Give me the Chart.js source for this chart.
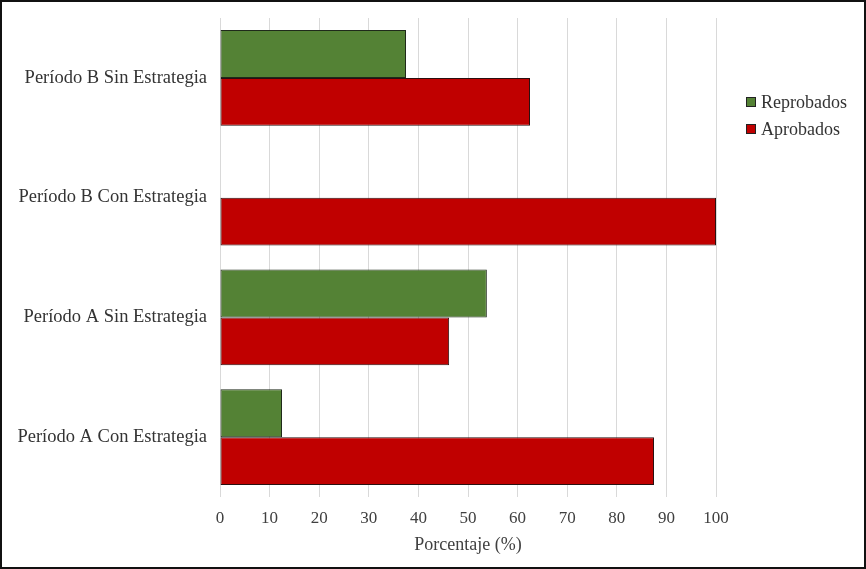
<!DOCTYPE html>
<html><head><meta charset="utf-8">
<script src="https://cdn.jsdelivr.net/npm/chart.js@4/dist/chart.umd.min.js"></script>
<style>
html,body{margin:0;padding:0;background:#fff;}
#wrap{position:relative;width:866px;height:569px;}
#c{position:absolute;left:0;top:0;}
#frame{position:absolute;left:0;top:0;width:866px;height:569px;box-sizing:border-box;border:2px solid #111;pointer-events:none;}
</style></head>
<body>
<div id="wrap"><canvas id="c" width="866" height="569"></canvas><div id="frame"></div></div>
<script>
const categories = ['Período B Sin Estrategia','Período B Con Estrategia','Período A Sin Estrategia','Período A Con Estrategia'];
const reprobados = [37.5, 0, 53.8, 12.5];
const aprobados = [62.5, 100, 46.2, 87.5];
const xTicks = [0,10,20,30,40,50,60,70,80,90,100];
const seriesNames = ['Reprobados','Aprobados'];
const seriesColors = ['#548235','#C00000'];

const FONT = "'Liberation Serif','Times New Roman',serif";

const legendPlugin = {
  id:'customLegend',
  afterDraw(chart){
    const ctx = chart.ctx;
    ctx.save();
    ctx.font = "18px " + FONT;
    ctx.textBaseline = 'middle';
    const ys = [102, 129];
    seriesNames.forEach((n,i)=>{
      ctx.fillStyle = seriesColors[i];
      ctx.fillRect(746.5, ys[i]-4.5, 9, 9);
      ctx.strokeStyle = '#222';
      ctx.lineWidth = 1;
      ctx.strokeRect(746.5, ys[i]-4.5, 9, 9);
      ctx.fillStyle = '#333';
      ctx.fillText(n, 761, ys[i]+1);
    });
    ctx.restore();
  }
};

new Chart(document.getElementById('c'), {
  type:'bar',
  data:{
    labels: categories,
    datasets:[
      {label: seriesNames[0], data: reprobados, backgroundColor: seriesColors[0], borderColor:'#1f2a1a', borderWidth:1, borderSkipped:false},
      {label: seriesNames[1], data: aprobados, backgroundColor: seriesColors[1], borderColor:'#2a1010', borderWidth:1, borderSkipped:false}
    ]
  },
  options:{
    indexAxis:'y',
    responsive:false,
    animation:false,
    devicePixelRatio:1,
    layout:{padding:{top:18,right:150,left:0,bottom:0}},
    datasets:{bar:{categoryPercentage:0.8, barPercentage:1.0}},
    plugins:{legend:{display:false}, tooltip:{enabled:false}},
    scales:{
      x:{
        min:0,max:100,
        afterBuildTicks(s){ s.ticks = xTicks.map(v=>({value:v})); },
        afterFit(s){ s.height = 72; },
        grid:{color:'#d9d9d9', lineWidth:1, drawTicks:false},
        border:{display:false},
        ticks:{color:'#404040', font:{family:FONT,size:17}, padding:11, maxRotation:0},
        title:{display:true, text:'Porcentaje (%)', color:'#404040', font:{family:FONT,size:18}, padding:{top:4,bottom:13}}
      },
      y:{
        afterFit(s){ s.width = 220; s.paddingTop = 0; s.paddingBottom = 0; },
        grid:{display:false, drawTicks:false},
        border:{display:false},
        ticks:{color:'#333', font:{family:FONT,size:18.5}, padding:13}
      }
    }
  },
  plugins:[legendPlugin]
});
</script>
</body></html>
